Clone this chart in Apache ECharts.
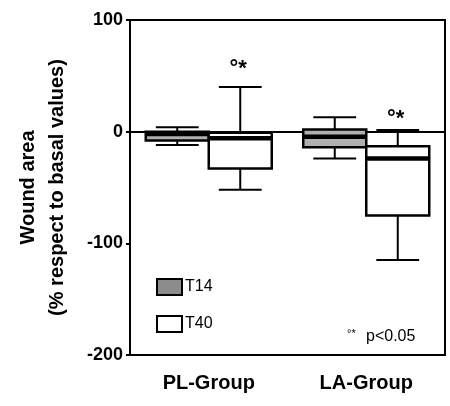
<!DOCTYPE html>
<html>
<head>
<meta charset="utf-8">
<script src="https://cdn.jsdelivr.net/npm/echarts@6/dist/echarts.min.js"></script>
<style>
  html, body { margin: 0; padding: 0; background: #fff; }
  #main { width: 450px; height: 406px; }
</style>
</head>
<body>
<div id="main"></div>
<script>
var FONT = '"Liberation Sans", Arial, sans-serif';

// categories on the x axis
var categories = ['PL-Group', 'LA-Group'];
// box values per group: [min, Q1, median, Q3, max]
var t14 = [
  [-12, -8, -2, 0, 4],
  [-24, -14, -4.5, 2, 13]
];
var t40 = [
  [-52, -33, -6, -1, 40],
  [-115, -75, -24, -13, 1.5]
];
// significance marks above the T40 boxes, and the value where they sit
var sigT40 = ['°*', '°*'];
var sigAt = [56, 11];
var yTicks = [-200, -100, 0, 100];

var chart = echarts.init(document.getElementById('main'), null, { renderer: 'canvas' });

// box drawn with the axis scales; side -1 = left half of the band, +1 = right half
function boxRenderer(side, fill, marks) {
  return function (params, api) {
    var cat = api.value(0);
    var band = api.size([1, 0])[0];
    var w = band * 0.4;
    var center = api.coord([cat, 0])[0];
    var x0 = side < 0 ? center - w : center;
    var cx = x0 + w / 2;
    var capW = w * 0.68;
    var lo = api.coord([cat, api.value(1)])[1];
    var q1 = api.coord([cat, api.value(2)])[1];
    var med = api.coord([cat, api.value(3)])[1];
    var q3 = api.coord([cat, api.value(4)])[1];
    var hi = api.coord([cat, api.value(5)])[1];
    var line = { stroke: '#000', lineWidth: 2 };
    var children = [
      { type: 'line', shape: { x1: cx, y1: hi, x2: cx, y2: q3 }, style: line },
      { type: 'line', shape: { x1: cx, y1: q1, x2: cx, y2: lo }, style: line },
      { type: 'line', shape: { x1: cx - capW / 2, y1: hi, x2: cx + capW / 2, y2: hi }, style: line },
      { type: 'line', shape: { x1: cx - capW / 2, y1: lo, x2: cx + capW / 2, y2: lo }, style: line },
      {
        type: 'rect',
        shape: { x: x0, y: q3, width: w, height: q1 - q3 },
        style: { fill: fill, stroke: '#000', lineWidth: 2.5 }
      },
      { type: 'line', shape: { x1: x0, y1: med, x2: x0 + w, y2: med }, style: { stroke: '#000', lineWidth: 4.5 } }
    ];
    if (marks && marks[params.dataIndex]) {
      var ty = api.coord([cat, sigAt[params.dataIndex]])[1];
      children.push({
        type: 'text',
        style: {
          text: marks[params.dataIndex],
          x: cx - 2, y: ty,
          font: 'bold 22px ' + FONT,
          fill: '#000',
          textAlign: 'center',
          textVerticalAlign: 'middle'
        }
      });
    }
    return { type: 'group', children: children };
  };
}

function toRows(list) {
  return list.map(function (v, i) {
    return [i].concat(v);
  });
}

var option = {
  animation: false,
  grid: {
    left: 130, right: 5, top: 20, bottom: 51,
    show: true,
    borderColor: '#000',
    borderWidth: 2
  },
  legend: {
    orient: 'vertical',
    left: 156,
    top: 278,
    padding: 0,
    itemWidth: 25,
    itemHeight: 16,
    itemGap: 19,
    textStyle: { fontFamily: FONT, fontSize: 16, color: '#000', padding: [0, 0, 0, -2] },
    data: [
      { name: 'T14', icon: 'rect', itemStyle: { color: '#8c8c8c', borderColor: '#000', borderWidth: 2 } },
      { name: 'T40', icon: 'rect', itemStyle: { color: '#fff', borderColor: '#000', borderWidth: 2 } }
    ]
  },
  xAxis: {
    type: 'category',
    data: categories,
    axisLine: { lineStyle: { color: '#000', width: 2 } },
    axisTick: { alignWithLabel: true, length: 3, lineStyle: { color: '#000', width: 2 } },
    axisLabel: { margin: 18, color: '#000', fontFamily: FONT, fontSize: 20, fontWeight: 'bold' },
    splitLine: { show: false }
  },
  yAxis: {
    type: 'value',
    min: -200,
    max: 100,
    interval: 100,
    name: 'Wound area\n(% respect to basal values)',
    nameLocation: 'middle',
    nameRotate: 90,
    nameGap: 58,
    nameTextStyle: { fontFamily: FONT, fontSize: 20, fontWeight: 'bold', color: '#000', lineHeight: 29 },
    axisLine: { show: true, lineStyle: { color: '#000', width: 2 } },
    axisTick: { show: true, length: 4, lineStyle: { color: '#000', width: 2 } },
    axisLabel: {
      margin: 7, color: '#000', fontFamily: FONT, fontSize: 18, fontWeight: 'bold',
      customValues: yTicks
    },
    splitLine: { show: false }
  },
  graphic: [
    { type: 'text', left: 347, top: 328, style: { text: '°*', font: '11px ' + FONT, fill: '#000' } },
    { type: 'text', left: 366, top: 329, style: { text: 'p<0.05', font: '16px ' + FONT, fill: '#000' } }
  ],
  series: [
    {
      name: 'T14',
      type: 'custom',
      itemStyle: { color: '#8c8c8c' },
      encode: { x: 0, y: [1, 2, 3, 4, 5] },
      renderItem: boxRenderer(-1, '#b0b0b0', null),
      data: toRows(t14),
      z: 3
    },
    {
      name: 'T40',
      type: 'custom',
      itemStyle: { color: '#fff' },
      encode: { x: 0, y: [1, 2, 3, 4, 5] },
      renderItem: boxRenderer(1, '#fff', sigT40),
      data: toRows(t40),
      z: 4
    }
  ]
};

chart.setOption(option);
</script>
</body>
</html>
